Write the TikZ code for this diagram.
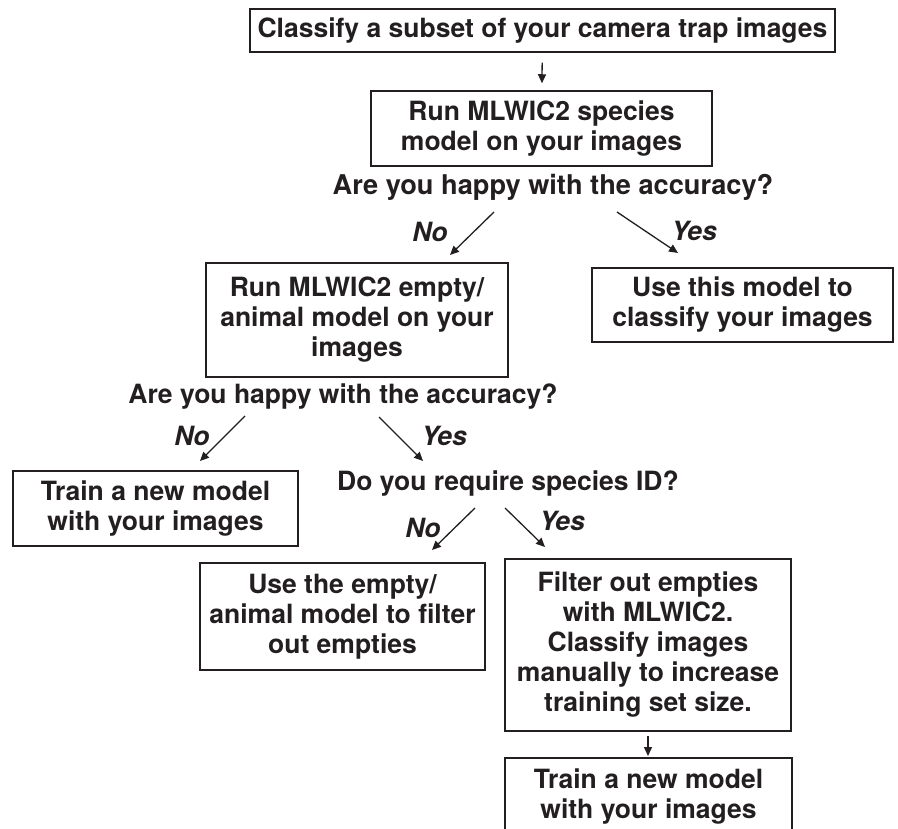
\documentclass[tikz,border=0pt]{standalone}
\usepackage{fontspec}
\setmainfont{TeX Gyre Heros}
\usetikzlibrary{arrows.meta}
\definecolor{ink}{HTML}{231F20}
\begin{document}
\begin{tikzpicture}[x=1pt,y=-1pt,
  every node/.style={font=\fontsize{26.5}{30}\selectfont\bfseries, text=ink},
  box/.style={draw=ink, line width=1.5pt, align=center, inner sep=0pt},
  boxline/.style={draw=ink, line width=1.5pt},
  q/.style={anchor=base, inner sep=0pt},
  lab/.style={anchor=base, inner sep=0pt, font=\fontsize{26.5}{30}\selectfont\bfseries\itshape},
  arr/.style={draw=ink, line width=1.3pt, -{Triangle[length=9pt,width=8pt]}}]
\useasboundingbox (0,0) rectangle (898,829);
\fill[white] (0,0) rectangle (898,829);

% boxes
\node[box, minimum width=585pt, minimum height=43pt] (top) at (542.5,30.5) {Classify a subset of your camera trap images};
\node[box, minimum width=341pt, minimum height=75pt] (run) at (541.5,128.5) {Run MLWIC2 species\\model on your images};
\node[box, minimum width=301pt, minimum height=74pt] (use) at (742.5,305) {Use this model to\\classify your images};
\node[box, minimum width=302pt, minimum height=114pt] (runea) at (357,320) {Run MLWIC2 empty/\\animal model on your\\images};
\node[box, minimum width=285pt, minimum height=75pt] (trainA) at (155.5,508.5) {Train a new model\\with your images};
\node[box, minimum width=285pt, minimum height=107pt] (filterea) at (342.5,616.5) {Use the empty/\\animal model to filter\\out empties};
\node[box, minimum width=286pt, minimum height=172pt] (filter) at (648,645) {Filter out empties\\with MLWIC2.\\Classify images\\manually to increase\\training set size.};
\node[inner sep=0pt, align=center, minimum width=287pt] (trainB) at (648.5,797) {Train a new model\\with your images};
\coordinate (tBtop) at (0,758);
\coordinate (tBbot) at (0,829);
\draw[boxline] (trainB.west |- tBbot) -- (trainB.west |- tBtop) -- (trainB.east |- tBtop) -- (trainB.east |- tBbot);

% questions
\node[q, font=\fontsize{27.2}{30}\selectfont\bfseries] (q1) at (553,195) {Are you happy with the accuracy?};
\node[q] (q2) at (343,403) {Are you happy with the accuracy?};
\node[q] (q3) at (508,490) {Do you require species ID?};

% labels
\node[lab] (no1) at (430,242) {No};
\node[lab] (yes1) at (694,241) {Yes};
\node[lab] (no2) at (192,445) {No};
\node[lab] (yes2) at (444,445) {Yes};
\node[lab] (no3) at (423,537) {No};
\node[lab] (yes3) at (562,530) {Yes};

% arrow end points
\coordinate (q1n) at (494,212);  \coordinate (q1ne) at (450,255);
\coordinate (q1y) at (617,212);  \coordinate (q1ye) at (678,253);
\coordinate (q2n) at (245,416);  \coordinate (q2ne) at (200,461);
\coordinate (q2y) at (379,417);  \coordinate (q2ye) at (423,461);
\coordinate (q3n) at (475,508);  \coordinate (q3ne) at (432,550);
\coordinate (q3y) at (505,508);  \coordinate (q3ye) at (545,547);

% connectors
\draw[arr, shorten <=10pt, shorten >=7pt] (top) -- (run);
\draw[arr] (q1n) -- (q1ne);
\draw[arr] (q1y) -- (q1ye);
\draw[arr] (q2n) -- (q2ne);
\draw[arr] (q2y) -- (q2ye);
\draw[arr] (q3n) -- (q3ne);
\draw[arr] (q3y) -- (q3ye);
\draw[arr, shorten <=4pt, shorten >=2pt] (filter) -- (filter.south |- tBtop);
\end{tikzpicture}
\end{document}
